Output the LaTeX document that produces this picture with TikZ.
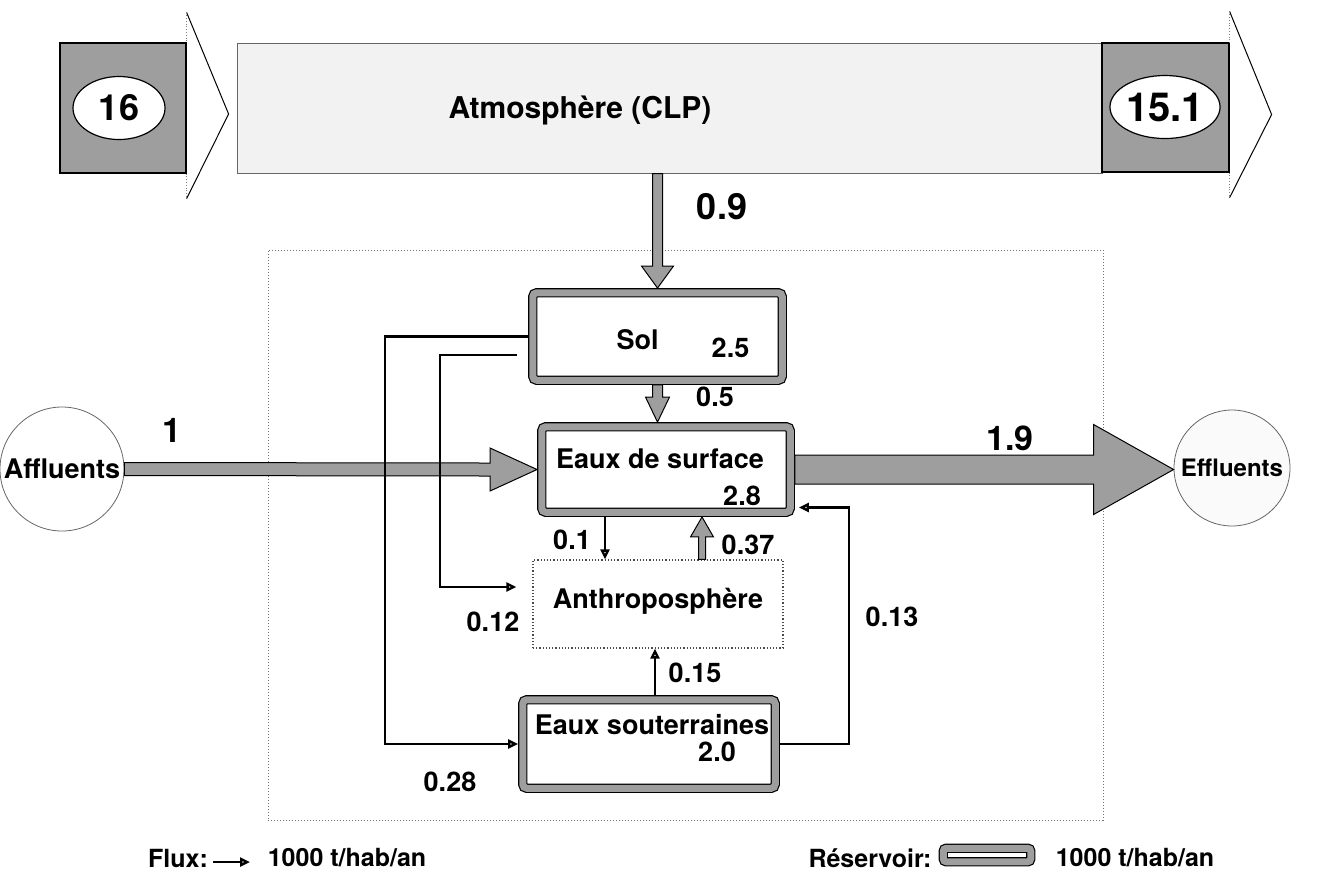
\documentclass[tikz,border=0pt]{standalone}
\usepackage{fontspec}
\setmainfont{TeX Gyre Heros}
\usetikzlibrary{arrows.meta,calc,shapes.geometric}
\definecolor{hatch}{gray}{0.62}
\tikzstyle{reservoir} = [draw, double=hatch, double distance=3.5pt, line width=0.6pt,
rounded corners=2pt, fill=white, outer sep=2.35pt, inner sep=0pt]
\tikzstyle{process} = [draw=black!70, densely dotted, line width=0.6pt, fill=white,
minimum width=125pt, minimum height=44pt]
\tikzstyle{bord} = [draw, fill=hatch, line width=0.6pt, inner sep=0pt]
\tikzstyle{valeur} = [ellipse, draw, fill=white, line width=0.6pt, inner sep=0pt,
font=\bfseries]
\tikzstyle{puits} = [circle, draw=black!60, fill=white, line width=0.4pt, inner sep=0pt,
minimum size=62pt, font=\bfseries]
\tikzstyle{flux} = [draw, line width=1.2pt, -{Triangle[open,length=5pt,width=4.5pt]}]
\tikzstyle{fat} = [draw, fill=hatch, line width=0.5pt]
\tikzstyle{lab} = [font=\bfseries\fontsize{13.5}{15}\selectfont, inner sep=0pt]
\tikzstyle{leg} = [font=\bfseries\fontsize{12.5}{14}\selectfont, inner sep=0pt]
\tikzstyle{big} = [font=\bfseries\fontsize{17}{20}\selectfont, inner sep=0pt]
% fat flows: from, tip, half shaft, half head, head offset
\newcommand{\vflow}[5]{\path[fat] ($(#1)+(-#3,0)$) -- ($(#2)+(-#3,#5)$) --
  ($(#2)+(-#4,#5)$) -- (#2) -- ($(#2)+(#4,#5)$) -- ($(#2)+(#3,#5)$) --
  ($(#1)+(#3,0)$) -- cycle;}
\newcommand{\hflow}[5]{\path[fat] ($(#1)+(0,-#3)$) -- ($(#2)+(#5,-#3)$) --
  ($(#2)+(#5,-#4)$) -- (#2) -- ($(#2)+(#5,#4)$) -- ($(#2)+(#5,#3)$) --
  ($(#1)+(0,#3)$) -- cycle;}

\begin{document}
\begin{tikzpicture}[x=0.5pt, y=-0.5pt]
\useasboundingbox (0,0) rectangle (1343,875);
% system boundary
\node [draw=black!55, densely dotted, line width=0.5pt, minimum width=417.5pt,
  minimum height=285pt, inner sep=0pt] (sys) at (685.5,535) {};
% atmosphere with in and out
\node [draw=black!60, fill=black!5, line width=0.5pt, minimum width=432.5pt,
  minimum height=65pt, inner sep=0pt] (atm) at (669.5,108) {};
\node [font=\bfseries\fontsize{15}{17}\selectfont] (atm-t) at (580,110) {Atmosphère (CLP)};
\node [bord, minimum width=63pt, minimum height=65pt] (src) at (123,108) {};
\node [valeur, minimum width=46pt, minimum height=31.5pt,
  font=\bfseries\fontsize{18}{20}\selectfont] (src-v) at (119,108) {16};
\node [bord, minimum width=63.5pt, minimum height=64.5pt] (snk) at (1165.5,107.5) {};
\node [valeur, minimum width=47pt, minimum height=31.5pt,
  font=\bfseries\fontsize{20}{22}\selectfont] (snk-v) at (1165,107) {15.1};
\draw [line width=0.5pt] ($(src.north east)+(0,-30)$) -- ($(src.east)+(42,6)$)
  -- ($(src.south east)+(0,25)$);
\draw [densely dotted, black!50] ($(src.north east)+(0,-30)$) -- (src.north east)
  (src.south east) -- ($(src.south east)+(0,25)$);
\draw [line width=0.5pt] ($(snk.north east)+(0,-31)$) -- ($(snk.east)+(42,7)$)
  -- ($(snk.south east)+(0,25)$);
\draw [densely dotted, black!50] ($(snk.north east)+(0,-31)$) -- (snk.north east)
  (snk.south east) -- ($(snk.south east)+(0,25)$);
% reservoirs and process
\node [reservoir, minimum width=124.75pt, minimum height=43.75pt] (sol) at (657.5,336.5) {};
\node [lab] (sol-t) at ($(sol)+(-20,3)$) {Sol};
\node [lab] (sol-v) at ($(sol)+(73,11)$) {2.5};
\node [reservoir, minimum width=124.25pt, minimum height=42.75pt] (eds) at (666,469.5) {};
\node [lab] (eds-t) at ($(eds)+(-6,-11)$) {Eaux de surface};
\node [lab] (eds-v) at ($(eds)+(76,26)$) {2.8};
\node [process] (anthro) at (658,604) {};
\node [lab] (anthro-t) at ($(anthro)+(0,-3)$) {Anthroposphère};
\node [reservoir, minimum width=126.25pt, minimum height=44.25pt] (eso) at (649,744) {};
\node [lab] (eso-t) at ($(eso)+(3,-19)$) {Eaux souterraines};
\node [lab] (eso-v) at ($(eso)+(68,8)$) {2.0};
\node [puits, font=\bfseries\fontsize{13.5}{15}\selectfont] (aff) at (62,469) {Affluents};
\node [puits, minimum size=58pt, fill=black!2,
  font=\bfseries\fontsize{12}{14}\selectfont] (eff) at (1232,468) {Effluents};
% fat flows
\coordinate (a09) at (atm.south -| sol.north);
\vflow{a09}{sol.north}{5}{16}{-22}
\vflow{sol.south}{eds.north -| sol.south}{5}{12}{-25}
\coordinate (a37) at ($(anthro.north)+(44,0)$);
\vflow{a37}{eds.south -| a37}{3.5}{11.5}{20}
\hflow{aff.east}{eds.west}{6.5}{21.5}{-47}
\hflow{eds.east}{eff.west |- eds.east}{14.5}{45}{-80}
% thin flows
\coordinate (sol-out) at (517,355);
\draw [flux] (sol.west) -- ++(-143,0) |- (eso.west);
\draw [flux] (sol-out) -- ++(-77,0) |- ($(anthro.west)+(-16,-17)$);
\draw [flux] ($(eds.south)+(-61,0)$) coordinate (t01) -- (t01 |- anthro.north);
\draw [flux] ($(eso.north)+(6,0)$) coordinate (t15) -- (t15 |- anthro.south);
\draw [flux] (eso.east) -- ++(69,0) |- ($(eds.east)+(4,38)$);
% values
\node [font=\bfseries\fontsize{18}{20}\selectfont] (l09) at (722,207) {0.9};
\node [big] (l1) at (172,430) {1};
\node [big] (l19) at (1010,438) {1.9};
\node [lab] (l05) at (715,397) {0.5};
\node [lab] (l01) at (572,540) {0.1};
\node [lab] (l037) at (748,545) {0.37};
\node [lab] (l012) at (493,622) {0.12};
\node [lab] (l013) at (892,617) {0.13};
\node [lab] (l015) at (695,673) {0.15};
\node [lab] (l028) at (450,782) {0.28};
% legend
\node [leg] (lg-flux) at (178,858) {Flux:};
\coordinate (lg-a) at (213,862);
\coordinate (lg-b) at (250,862);
\draw [flux] (lg-a) -- (lg-b);
\node [leg] (lg-u1) at (347,858) {1000 t/hab/an};
\node [leg] (lg-res) at (870,858) {Réservoir:};
\node [reservoir, rounded corners=1.5pt, minimum width=43.75pt, minimum height=6.75pt]
  (lg-box) at (987,855) {};
\node [leg] (lg-u2) at (1135,858) {1000 t/hab/an};
\end{tikzpicture}
\end{document}
